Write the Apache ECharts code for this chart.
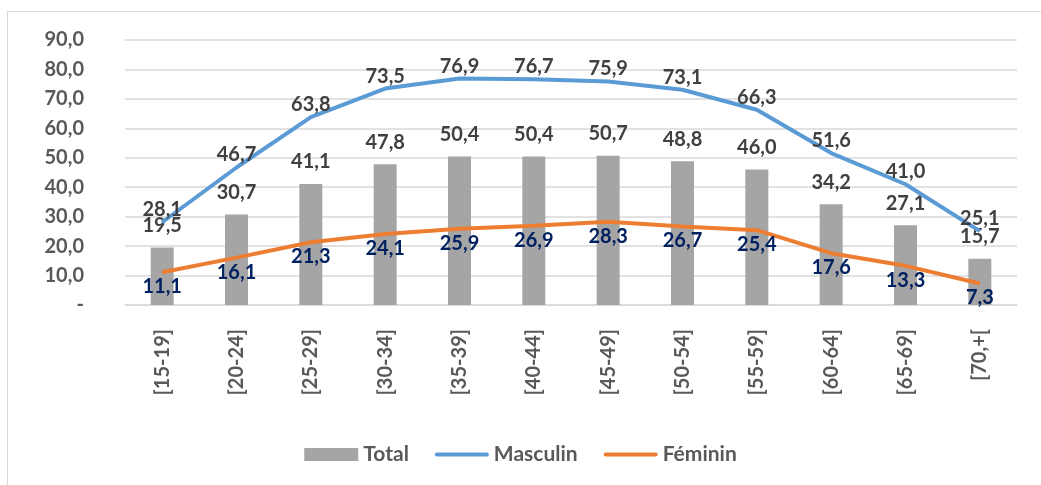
<!DOCTYPE html>
<html>
<head>
<meta charset="utf-8">
<script src="https://cdn.jsdelivr.net/npm/echarts@6/dist/echarts.min.js"></script>
<style>
html, body { margin: 0; padding: 0; background: #fff; }
.frame { position: absolute; left: 7px; top: 11px; width: 1100px; height: 520px; border: 1px solid #d9d9d9; }
#chart { position: absolute; left: 0; top: 0; width: 1041px; height: 485px; }
</style>
</head>
<body>
<div class="frame"></div>
<div id="chart"></div>
<script>
const categories = ['[15-19]', '[20-24]', '[25-29]', '[30-34]', '[35-39]', '[40-44]', '[45-49]', '[50-54]', '[55-59]', '[60-64]', '[65-69]', '[70,+['];
const total = [19.5, 30.7, 41.1, 47.8, 50.4, 50.4, 50.7, 48.8, 46.0, 34.2, 27.1, 15.7];
const masculin = [28.1, 46.7, 63.8, 73.5, 76.9, 76.7, 75.9, 73.1, 66.3, 51.6, 41.0, 25.1];
const feminin = [11.1, 16.1, 21.3, 24.1, 25.9, 26.9, 28.3, 26.7, 25.4, 17.6, 13.3, 7.3];

const fontFamily = 'Lato, "Open Sans", sans-serif';
const fmt = function (p) { return p.value.toFixed(1).replace('.', ','); };
const lineIcon = 'path://M2,0 L52,0 A2,2 0 0 1 52,4 L2,4 A2,2 0 0 1 2,0 Z';

var myChart = echarts.init(document.getElementById('chart'));
var option = {
    animation: false,
    textStyle: { fontFamily: fontFamily },
    grid: { left: 125, right: 24, top: 40, bottom: 180 },
    legend: {
        top: 439,
        left: 'center',
        itemGap: 26,
        itemWidth: 54,
        itemHeight: 13,
        symbolKeepAspect: true,
        textStyle: { fontSize: 21, fontWeight: 'bold', color: '#595959', fontFamily: fontFamily },
        data: [
            { name: 'Total', icon: 'rect' },
            { name: 'Masculin', icon: lineIcon, itemStyle: { color: '#5b9bd5' } },
            { name: 'Féminin', icon: lineIcon, itemStyle: { color: '#ed7d31' } }
        ]
    },
    xAxis: {
        type: 'category',
        data: categories,
        axisLine: { lineStyle: { color: '#d9d9d9', width: 1.5 } },
        axisTick: { show: false },
        axisLabel: {
            rotate: 90,
            margin: 24,
            fontSize: 20,
            fontWeight: 'bold',
            color: '#595959',
            fontFamily: fontFamily
        }
    },
    yAxis: {
        type: 'value',
        min: 0,
        max: 90,
        interval: 10,
        axisLine: { show: false },
        axisTick: { show: false },
        splitLine: { lineStyle: { color: '#d9d9d9', width: 1.5 } },
        axisLabel: {
            margin: 41,
            fontSize: 20,
            fontWeight: 'bold',
            color: '#595959',
            fontFamily: fontFamily,
            formatter: function (v) { return v === 0 ? '-' : v.toFixed(1).replace('.', ','); }
        }
    },
    series: [
        {
            name: 'Total',
            type: 'bar',
            data: total,
            barWidth: 23,
            itemStyle: { color: '#a5a5a5' },
            label: {
                show: true,
                position: 'top',
                distance: 12,
                fontSize: 20,
                fontWeight: 'bold',
                color: '#404040',
                fontFamily: fontFamily,
                formatter: fmt
            },
            z: 1
        },
        {
            name: 'Masculin',
            type: 'line',
            data: masculin,
            showSymbol: true,
            symbol: 'circle',
            symbolSize: 1,
            lineStyle: { color: '#5b9bd5', width: 4 },
            itemStyle: { color: 'rgba(0,0,0,0)', borderWidth: 0 },
            label: {
                show: true,
                position: 'top',
                distance: 2,
                fontSize: 20,
                fontWeight: 'bold',
                color: '#404040',
                fontFamily: fontFamily,
                formatter: fmt
            },
            z: 3
        },
        {
            name: 'Féminin',
            type: 'line',
            data: feminin,
            showSymbol: true,
            symbol: 'circle',
            symbolSize: 1,
            lineStyle: { color: '#ed7d31', width: 4 },
            itemStyle: { color: 'rgba(0,0,0,0)', borderWidth: 0 },
            label: {
                show: true,
                position: 'bottom',
                distance: 4,
                fontSize: 20,
                fontWeight: 'bold',
                color: '#002060',
                fontFamily: fontFamily,
                formatter: fmt
            },
            z: 3
        }
    ]
};
myChart.setOption(option);
</script>
</body>
</html>
